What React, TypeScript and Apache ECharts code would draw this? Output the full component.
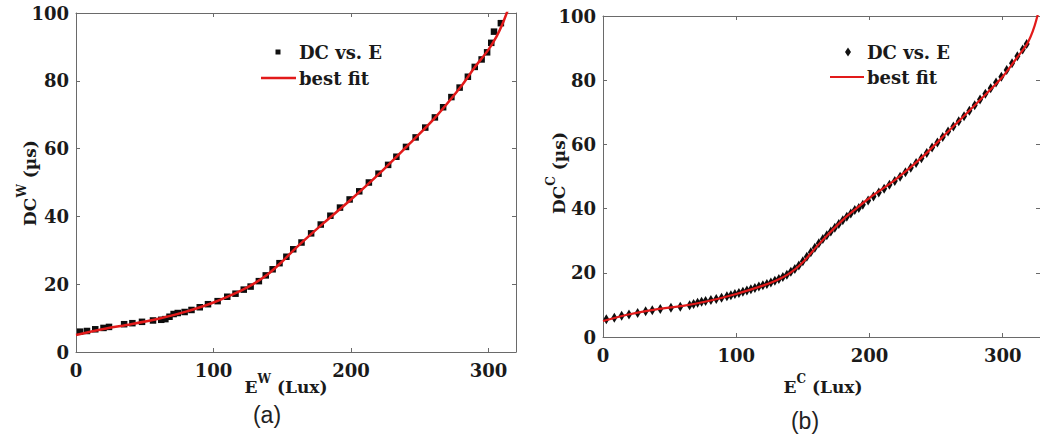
import React, { useEffect, useRef } from "react";
import * as echarts from "echarts";

// Panel (a): measured points (E^W in Lux, DC^W in µs)
const aMeasE = [3, 8, 14, 20, 24, 35, 41, 48, 56, 62, 65, 68, 71, 74, 79, 84, 90, 96, 103, 110, 116, 122, 127, 133, 138, 143, 148, 153, 158, 164, 171, 178, 185, 192, 199, 206, 213, 220, 227, 233, 240, 247, 254, 261, 267, 273, 279, 285, 290, 295, 299, 302, 304, 309];
const aMeasDC = [6.0, 6.2, 6.7, 7.1, 7.4, 8.2, 8.5, 8.9, 9.3, 9.5, 9.7, 10.4, 11.2, 11.5, 11.8, 12.4, 13.2, 14.1, 15.0, 16.3, 17.2, 18.4, 19.3, 20.9, 22.6, 24.4, 26.2, 28.1, 30.3, 32.3, 35.0, 37.6, 40.2, 42.6, 45.0, 47.4, 50.0, 52.6, 55.2, 57.6, 60.5, 63.3, 66.2, 69.2, 72.2, 75.2, 78.0, 81.2, 84.1, 86.3, 88.4, 91.2, 94.5, 97.0];
// Panel (a): best fit
const aFitE = [0, 20, 40, 60, 80, 100, 120, 130, 140, 150, 160, 180, 200, 220, 240, 260, 280, 290, 300, 306, 310, 314];
const aFitDC = [5.0, 6.8, 8.2, 9.8, 11.9, 14.6, 18.1, 20.3, 23.1, 26.7, 30.7, 38.0, 45.0, 52.4, 60.4, 68.6, 78.3, 84.0, 89.2, 93.2, 96.6, 100.8];

// Panel (b): measured points (E^C in Lux, DC^C in µs)
const bMeasE = [2.5, 8.5, 14, 19.5, 26, 32, 37, 43, 51, 58, 65, 68, 71, 74, 77, 81, 85, 89, 93, 96, 99, 102, 105, 108, 111, 114, 117, 120, 123, 126, 129, 132, 135, 138, 141, 144, 147, 150, 153, 156, 159, 162, 165, 168, 171, 174, 177, 180, 183, 186, 189, 192, 195, 199, 203, 207, 211, 215, 219, 223, 227, 231, 235, 239, 243, 247, 251, 255, 259, 263, 267, 271, 275, 279, 283, 287, 291, 295, 299, 303, 307, 311, 315, 318];
const bMeasDC = [5.5, 6.0, 6.6, 7.0, 7.5, 8.0, 8.3, 8.7, 9.1, 9.4, 9.9, 10.3, 10.7, 11.0, 11.2, 11.5, 11.8, 12.2, 12.7, 13.0, 13.4, 13.7, 14.1, 14.5, 14.9, 15.3, 15.7, 16.1, 16.5, 17.0, 17.5, 18.1, 18.7, 19.4, 20.3, 21.2, 22.3, 23.6, 25.0, 26.4, 27.8, 29.2, 30.5, 31.7, 32.9, 34.0, 35.2, 36.4, 37.5, 38.5, 39.6, 40.2, 41.2, 42.5, 43.8, 45.0, 46.2, 47.4, 48.6, 49.9, 51.3, 52.7, 54.2, 55.7, 57.3, 59.0, 60.6, 62.3, 64.0, 65.6, 67.2, 68.8, 70.5, 72.2, 74.0, 75.8, 77.5, 79.3, 81.1, 83.2, 85.3, 87.5, 89.6, 91.3];
// Panel (b): best fit
const bFitE = [0, 20, 40, 60, 80, 100, 120, 130, 140, 150, 160, 170, 180, 190, 200, 220, 240, 260, 280, 300, 310, 318, 321, 324, 327];
const bFitDC = [5.0, 7.1, 8.6, 9.7, 11.3, 13.4, 16.0, 17.6, 19.8, 23.3, 28.0, 32.4, 36.5, 40.0, 43.3, 49.2, 56.2, 64.4, 72.6, 81.1, 86.6, 91.1, 93.6, 97.0, 101.5];

const RED = "#e21a1a";
const AXIS = "#6a6a6a";
const SERIF = '"DejaVu Serif", serif';

const zip = (xs: number[], ys: number[]) => xs.map((x, i) => [x, ys[i]]);

function xAxis(grid: number, max: number, top: boolean) {
  return {
    type: "value",
    gridIndex: grid,
    min: 0,
    max,
    interval: 100,
    position: top ? "top" : "bottom",
    axisLine: { show: true, onZero: false, lineStyle: { color: AXIS, width: 1 } },
    axisTick: { show: true, inside: true, length: 4, lineStyle: { color: AXIS } },
    axisLabel: top
      ? { show: false }
      : { show: true, margin: 9, showMaxLabel: false, fontFamily: SERIF, fontWeight: "bold", fontSize: 18, color: "#1a1a1a" },
    splitLine: { show: false },
  };
}

function yAxis(grid: number, right: boolean) {
  return {
    type: "value",
    gridIndex: grid,
    min: 0,
    max: 100,
    interval: 20,
    position: right ? "right" : "left",
    axisLine: { show: true, onZero: false, lineStyle: { color: AXIS, width: 1 } },
    axisTick: { show: true, inside: true, length: 4, lineStyle: { color: AXIS } },
    axisLabel: right
      ? { show: false }
      : { show: true, margin: 7, fontFamily: SERIF, fontWeight: "bold", fontSize: 18, color: "#1a1a1a" },
    splitLine: { show: false },
  };
}

const richStyles = {
  m: { fontFamily: SERIF, fontWeight: "bold", fontSize: 17, fill: "#1a1a1a", verticalAlign: "bottom", lineHeight: 22 },
  s: { fontFamily: SERIF, fontWeight: "bold", fontSize: 12, fill: "#1a1a1a", verticalAlign: "top", lineHeight: 22 },
};

function label(text: string, x: number, y: number, rotation = 0) {
  return {
    type: "text",
    x,
    y,
    rotation,
    style: {
      text,
      rich: richStyles,
      align: "center",
      verticalAlign: "middle",
      textAlign: "center",
      textVerticalAlign: "middle",
    },
  };
}

function legendText(text: string, x: number, y: number) {
  return {
    type: "text",
    x,
    y,
    style: {
      text,
      fontFamily: SERIF,
      fontWeight: "bold",
      fontSize: 18,
      fill: "#1a1a1a",
      align: "left",
      verticalAlign: "middle",
      textAlign: "left",
      textVerticalAlign: "middle",
    },
  };
}

function panelTag(text: string, x: number, y: number) {
  return {
    type: "text",
    x,
    y,
    style: {
      text,
      fontFamily: '"Liberation Sans", Arial, sans-serif',
      fontSize: 23,
      fill: "#222",
      align: "center",
      verticalAlign: "middle",
      textAlign: "center",
      textVerticalAlign: "middle",
    },
  };
}

export default function App() {
  const ref = useRef<HTMLDivElement>(null);
  useEffect(() => {
    if (!ref.current) return;
    const chart = echarts.init(ref.current, null, { renderer: "svg" });
    chart.setOption({
      animation: false,
      backgroundColor: "#ffffff",
      grid: [
        { left: 76, top: 13, width: 440, height: 339 },
        { left: 603, top: 16, width: 437, height: 321 },
      ],
      xAxis: [xAxis(0, 320, false), xAxis(0, 320, true), xAxis(1, 328, false), xAxis(1, 328, true)],
      yAxis: [yAxis(0, false), yAxis(0, true), yAxis(1, false), yAxis(1, true)],
      series: [
        {
          type: "scatter",
          name: "DC vs. E (a)",
          xAxisIndex: 0,
          yAxisIndex: 0,
          data: zip(aMeasE, aMeasDC),
          symbol: "rect",
          symbolSize: 6.5,
          itemStyle: { color: "#0d0d0d", opacity: 1 },
          z: 2,
        },
        {
          type: "line",
          name: "best fit (a)",
          xAxisIndex: 0,
          yAxisIndex: 0,
          data: zip(aFitE, aFitDC),
          smooth: 0.3,
          symbol: "none",
          showSymbol: false,
          lineStyle: { color: RED, width: 2.5 },
          z: 3,
        },
        {
          type: "scatter",
          name: "DC vs. E (b)",
          xAxisIndex: 2,
          yAxisIndex: 2,
          data: zip(bMeasE, bMeasDC),
          symbol: "diamond",
          symbolSize: [6, 10],
          itemStyle: { color: "#0d0d0d", opacity: 1 },
          z: 2,
        },
        {
          type: "line",
          name: "best fit (b)",
          xAxisIndex: 2,
          yAxisIndex: 2,
          data: zip(bFitE, bFitDC),
          smooth: 0.3,
          symbol: "none",
          showSymbol: false,
          lineStyle: { color: RED, width: 2.2 },
          z: 3,
        },
      ],
      graphic: [
        // legend (a)
        { type: "rect", shape: { x: 275.5, y: 49.5, width: 5, height: 5 }, style: { fill: "#111" } },
        legendText("DC vs. E", 299, 52),
        { type: "line", shape: { x1: 261, y1: 78, x2: 296, y2: 78 }, style: { stroke: RED, lineWidth: 2.5 } },
        legendText("best fit", 299, 78),
        // legend (b)
        { type: "polygon", shape: { points: [[848, 47.5], [851, 52], [848, 56.5], [845, 52]] }, style: { fill: "#111" } },
        legendText("DC vs. E", 867, 52),
        { type: "line", shape: { x1: 830, y1: 77, x2: 864, y2: 77 }, style: { stroke: RED, lineWidth: 2.2 } },
        legendText("best fit", 867, 77),
        // axis names
        label("{m|E}{s|W}{m| (Lux)}", 286, 384),
        label("{m|DC}{s|W}{m| (µs)}", 27, 183, Math.PI / 2),
        label("{m|E}{s|C}{m| (Lux)}", 823, 384),
        label("{m|DC}{s|C}{m| (µs)}", 556, 173, Math.PI / 2),
        // panel tags
        panelTag("(a)", 267, 415),
        panelTag("(b)", 805, 421),
      ],
    });
    return () => chart.dispose();
  }, []);
  return (
    <div
      ref={ref}
      style={{ position: "fixed", left: 0, top: 0, width: 1040, height: 440, background: "#fff" }}
    />
  );
}
